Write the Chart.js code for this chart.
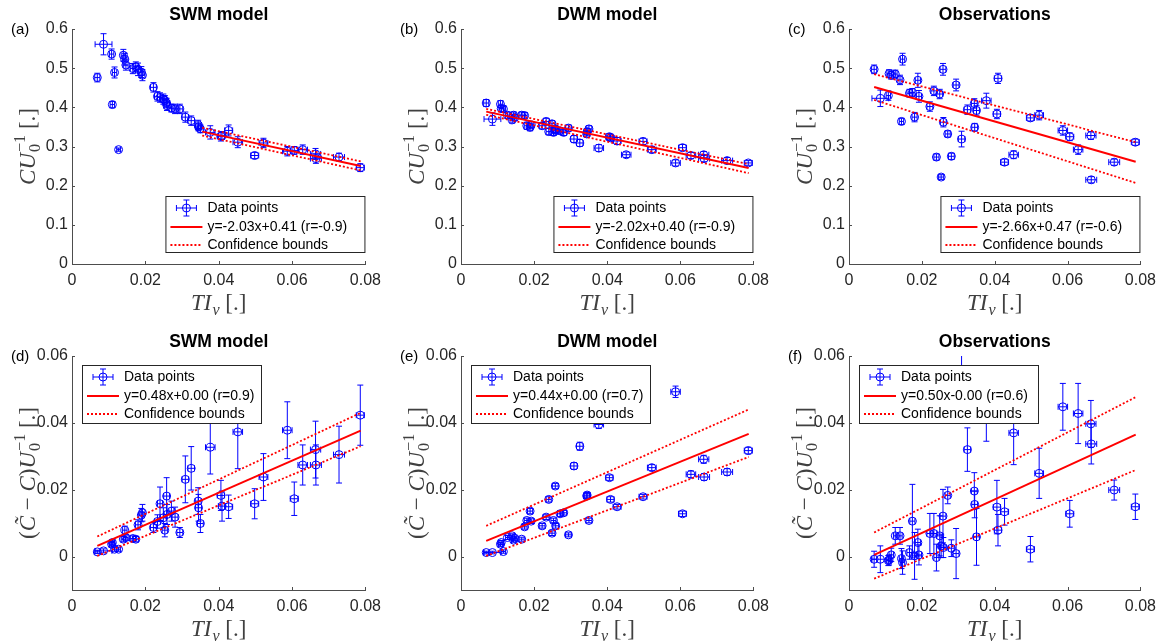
<!DOCTYPE html>
<html>
<head>
<meta charset="utf-8">
<script src="https://cdn.jsdelivr.net/npm/chart.js@4.4.0/dist/chart.umd.min.js"></script>
<style>
  body { margin: 0; background: #fff; width: 1163px; height: 641px; overflow: hidden; position: relative; }
  canvas { position: absolute; }
</style>
</head>
<body>
<canvas id="c0" width="388" height="320" style="left:0;top:0"></canvas>
<canvas id="c1" width="388" height="320" style="left:388px;top:0"></canvas>
<canvas id="c2" width="387" height="320" style="left:776px;top:0"></canvas>
<canvas id="c3" width="388" height="321" style="left:0;top:320px"></canvas>
<canvas id="c4" width="388" height="321" style="left:388px;top:320px"></canvas>
<canvas id="c5" width="387" height="321" style="left:776px;top:320px"></canvas>
<script>
// turbulence intensity of each case (shared by all panels) and its spread
const tiV = [0.0069, 0.0086, 0.0108, 0.0110, 0.0116, 0.0127, 0.0140, 0.0144, 0.0147, 0.0166,
             0.0174, 0.0180, 0.0189, 0.0192, 0.0222, 0.0233, 0.0240, 0.0249, 0.0253, 0.0258,
             0.0259, 0.0271, 0.0281, 0.0294, 0.0309, 0.0325, 0.0344, 0.0345, 0.0350, 0.0377,
             0.0406, 0.0409, 0.0427, 0.0452, 0.0498, 0.0522, 0.0587, 0.0606, 0.0629, 0.0664,
             0.0665, 0.0728, 0.0786];
const tiVErr = [0.0007, 0.0023, 0.0006, 0.0006, 0.0006, 0.0005, 0.0006, 0.0006, 0.0006, 0.0007,
                0.0007, 0.0007, 0.0007, 0.0007, 0.0008, 0.0008, 0.0007, 0.0008, 0.0007, 0.0008,
                0.0008, 0.0007, 0.0008, 0.0008, 0.0009, 0.0009, 0.0008, 0.0008, 0.0008, 0.0013,
                0.0010, 0.0010, 0.0011, 0.0013, 0.0011, 0.0012, 0.0013, 0.0011, 0.0013, 0.0014,
                0.0015, 0.0015, 0.0011];

// C U0^-1
const swmCu = [0.476, 0.561, 0.536, 0.407, 0.489, 0.292, 0.533, 0.523, 0.508, 0.499,
               0.504, 0.497, 0.490, 0.482, 0.451, 0.428, 0.425, 0.421, 0.418, 0.411,
               0.404, 0.398, 0.396, 0.396, 0.375, 0.366, 0.355, 0.350, 0.345, 0.336,
               0.326, 0.328, 0.341, 0.311, 0.277, 0.309, 0.288, 0.290, 0.292, 0.281,
               0.269, 0.273, 0.246];
const swmCuErr = [0.011, 0.027, 0.013, 0.008, 0.014, 0.004, 0.015, 0.015, 0.013, 0.013,
                  0.012, 0.016, 0.014, 0.014, 0.012, 0.012, 0.012, 0.013, 0.012, 0.012,
                  0.012, 0.010, 0.012, 0.012, 0.013, 0.012, 0.012, 0.010, 0.010, 0.017,
                  0.012, 0.010, 0.014, 0.014, 0.008, 0.012, 0.012, 0.010, 0.012, 0.014,
                  0.012, 0.010, 0.010];
const dwmCu = [0.411, 0.370, 0.408, 0.397, 0.396, 0.380, 0.368, 0.380, 0.374, 0.380,
               0.379, 0.353, 0.349, 0.355, 0.353, 0.364, 0.338, 0.358, 0.336, 0.345,
               0.341, 0.340, 0.336, 0.347, 0.319, 0.309, 0.332, 0.338, 0.345, 0.296,
               0.325, 0.322, 0.314, 0.279, 0.313, 0.292, 0.258, 0.297, 0.277, 0.279,
               0.269, 0.264, 0.258];
const dwmCuErr = [0.009, 0.016, 0.009, 0.008, 0.008, 0.008, 0.008, 0.008, 0.008, 0.008,
                  0.008, 0.009, 0.009, 0.008, 0.008, 0.008, 0.008, 0.008, 0.008, 0.008,
                  0.008, 0.008, 0.008, 0.008, 0.009, 0.009, 0.008, 0.008, 0.008, 0.009,
                  0.008, 0.008, 0.009, 0.007, 0.008, 0.008, 0.008, 0.008, 0.008, 0.008,
                  0.008, 0.008, 0.006];
const obsCu = [0.497, 0.423, 0.430, 0.486, 0.482, 0.485, 0.470, 0.364, 0.523, 0.436,
               0.438, 0.375, 0.469, 0.428, 0.402, 0.442, 0.273, 0.434, 0.222, 0.497,
               0.362, 0.332, 0.275, 0.457, 0.319, 0.394, 0.410, 0.349, 0.392, 0.417,
               0.383, 0.474, 0.260, 0.279, 0.373, 0.380, 0.341, 0.325, 0.292, 0.328,
               0.215, 0.260, 0.311];
const obsCuErr = [0.011, 0.021, 0.012, 0.010, 0.010, 0.010, 0.012, 0.008, 0.015, 0.010,
                  0.010, 0.012, 0.018, 0.015, 0.012, 0.012, 0.008, 0.012, 0.006, 0.015,
                  0.012, 0.008, 0.008, 0.015, 0.020, 0.012, 0.012, 0.010, 0.012, 0.019,
                  0.012, 0.013, 0.008, 0.010, 0.008, 0.012, 0.012, 0.010, 0.012, 0.010,
                  0.008, 0.008, 0.008];

// (C~ - C) U0^-1
const swmDc = [0.0014, 0.0017, 0.0037, 0.0042, 0.0022, 0.0022, 0.0052, 0.0079, 0.0057, 0.0054,
               0.0052, 0.0095, 0.0124, 0.0131, 0.0087, 0.0105, 0.0158, 0.0116, 0.0079, 0.0181,
               0.0126, 0.0136, 0.0118, 0.0072, 0.0231, 0.0264, 0.0166, 0.0146, 0.0099, 0.0327,
               0.0183, 0.0151, 0.0149, 0.0373, 0.0158, 0.0238, 0.0378, 0.0173, 0.0274, 0.0320,
               0.0274, 0.0305, 0.0423];
const swmDcErr = [0.0005, 0.0006, 0.0008, 0.0008, 0.0006, 0.0006, 0.0008, 0.0012, 0.0008, 0.0008,
                  0.0008, 0.0015, 0.0020, 0.0025, 0.0015, 0.0020, 0.0050, 0.0030, 0.0020, 0.0055,
                  0.0030, 0.0030, 0.0030, 0.0015, 0.0070, 0.0065, 0.0040, 0.0040, 0.0027, 0.0080,
                  0.0045, 0.0045, 0.0035, 0.0110, 0.0045, 0.0070, 0.0085, 0.0050, 0.0060, 0.0085,
                  0.0060, 0.0085, 0.0090];
const dwmDc = [0.0012, 0.0012, 0.0037, 0.0042, 0.0015, 0.0057, 0.0062, 0.0049, 0.0055, 0.0052,
               0.0089, 0.0108, 0.0136, 0.0106, 0.0092, 0.0118, 0.0171, 0.0070, 0.0108, 0.0211,
               0.0092, 0.0128, 0.0131, 0.0065, 0.0271, 0.0330, 0.0181, 0.0184, 0.0108, 0.0395,
               0.0236, 0.0171, 0.0149, 0.0440, 0.0179, 0.0266, 0.0493, 0.0128, 0.0246, 0.0291,
               0.0238, 0.0253, 0.0317];
const dwmDcErr = [0.0004, 0.0004, 0.0006, 0.0006, 0.0005, 0.0006, 0.0006, 0.0006, 0.0006, 0.0006,
                  0.0007, 0.0007, 0.0008, 0.0007, 0.0007, 0.0007, 0.0008, 0.0007, 0.0007, 0.0008,
                  0.0007, 0.0008, 0.0007, 0.0006, 0.0010, 0.0012, 0.0008, 0.0008, 0.0007, 0.0012,
                  0.0008, 0.0008, 0.0007, 0.0012, 0.0007, 0.0009, 0.0017, 0.0008, 0.0010, 0.0012,
                  0.0010, 0.0010, 0.0010];
const obsDc = [-0.0008, -0.0008, -0.0012, -0.0010, 0.0005, 0.0062, 0.0062, -0.0006, -0.0018, 0.0012,
               0.0106, 0.0002, 0.0042, 0.0005, 0.0069, 0.0069, -0.0003, 0.0062, 0.0032, 0.0121,
               0.0027, 0.0183, 0.0025, 0.0009, 0.0660, 0.0320, 0.0196, 0.0156, 0.0059, 0.0425,
               0.0148, 0.0079, 0.0134, 0.0370, 0.0022, 0.0249, 0.0448, 0.0128, 0.0428, 0.0397,
               0.0337, 0.0199, 0.0149];
const obsDcErr = [0.0024, 0.0040, 0.0015, 0.0015, 0.0020, 0.0025, 0.0025, 0.0030, 0.0035, 0.0020,
                  0.0110, 0.0070, 0.0040, 0.0030, 0.0060, 0.0060, 0.0040, 0.0060, 0.0035, 0.0080,
                  0.0030, 0.0025, 0.0025, 0.0075, 0.0100, 0.0065, 0.0055, 0.0040, 0.0085, 0.0080,
                  0.0080, 0.0047, 0.0040, 0.0095, 0.0038, 0.0075, 0.0070, 0.0040, 0.0090, 0.0070,
                  0.0060, 0.0030, 0.0038];

// linear fits: end points of fit line and confidence bounds
const swmCuFitX = [0.0355, 0.0787], swmCuFit = [0.338, 0.250], swmCuUp = [0.348, 0.262], swmCuLo = [0.328, 0.239];
const dwmCuFitX = [0.0069, 0.0787], dwmCuFit = [0.389, 0.245], dwmCuUp = [0.396, 0.255], dwmCuLo = [0.381, 0.232];
const obsCuFitX = [0.0069, 0.0787], obsCuFit = [0.452, 0.261], obsCuUp = [0.485, 0.311], obsCuLo = [0.419, 0.207];
const swmDcFitX = [0.0069, 0.0787], swmDcFit = [0.0032, 0.0377], swmDcUp = [0.0060, 0.0430], swmDcLo = [0.0002, 0.0330];
const dwmDcFitX = [0.0069, 0.0787], dwmDcFit = [0.0047, 0.0367], dwmDcUp = [0.0092, 0.0440], dwmDcLo = [0.0002, 0.0298];
const obsDcFitX = [0.0069, 0.0787], obsDcFit = [0.0005, 0.0365], obsDcUp = [0.0072, 0.0477], obsDcLo = [-0.0066, 0.0259];

const titles = ['SWM model', 'DWM model', 'Observations'];
const letters = ['(a)', '(b)', '(c)', '(d)', '(e)', '(f)'];
const fitLabels = ['y=-2.03x+0.41 (r=-0.9)', 'y=-2.02x+0.40 (r=-0.9)', 'y=-2.66x+0.47 (r=-0.6)',
                   'y=0.48x+0.00 (r=0.9)', 'y=0.44x+0.00 (r=0.7)', 'y=0.50x-0.00 (r=0.6)'];
const xTicks = [0, 0.02, 0.04, 0.06, 0.08];
const cuTicks = [0, 0.1, 0.2, 0.3, 0.4, 0.5, 0.6];
const dcTicks = [0, 0.02, 0.04, 0.06];

const cuLabel = [{ t: 'CU', f: 'i' }, { sub: '0', sup: '\u22121' }, { t: ' [.]', f: 'n' }];
const dcLabel = [{ t: '(', f: 'n' }, { t: 'C\u0303', f: 'i' }, { t: ' \u2212 ', f: 'n' }, { t: 'C', f: 'i' },
                 { t: ')', f: 'n' }, { t: 'U', f: 'i' }, { sub: '0', sup: '\u22121' }, { t: ' [.]', f: 'n' }];
const tiLabel = [{ t: 'TI', f: 'i' }, { sub: 'v', f: 'i' }, { t: ' [.]', f: 'n' }];

const SANS = "'Liberation Sans', Arial, sans-serif";
const INK = '#262626';
const BLUE = '#0000ff';
const RED = '#ff0000';

function fmt(v) { return v === 0 ? '0' : String(Math.round(v * 100) / 100); }

function serif(style, size) {
    return (style === 'i' ? 'italic ' : '') + size + "px 'Liberation Serif', 'Times New Roman', serif";
}

// draws a small math-like label with sub/superscripts, centred at (cx, cy)
function drawMath(ctx, segs, cx, cy, size, angle) {
    const small = size * 0.7;
    const parts = segs.map(s => {
        if (s.t !== undefined) {
            ctx.font = serif(s.f, size);
            return { s, w: ctx.measureText(s.t).width };
        }
        ctx.font = serif(s.f, small);
        const w = Math.max(s.sup ? ctx.measureText(s.sup).width : 0, s.sub ? ctx.measureText(s.sub).width : 0);
        return { s, w: w + 1 };
    });
    const total = parts.reduce((a, p) => a + p.w, 0);
    ctx.save();
    ctx.translate(cx, cy);
    ctx.rotate(angle);
    ctx.fillStyle = '#404040';
    ctx.textBaseline = 'alphabetic';
    ctx.textAlign = 'left';
    let x = -total / 2;
    const base = size * 0.3;
    parts.forEach(p => {
        const s = p.s;
        if (s.t !== undefined) {
            ctx.font = serif(s.f, size);
            ctx.fillText(s.t, x, base);
        } else {
            ctx.font = serif(s.f, small);
            if (s.sup) ctx.fillText(s.sup, x + 1, base - size * 0.42);
            if (s.sub) ctx.fillText(s.sub, x + 1, base + size * 0.24);
        }
        x += p.w;
    });
    ctx.restore();
}

function errIcon(ctx, cx, cy) {
    ctx.beginPath();
    ctx.moveTo(cx - 10, cy); ctx.lineTo(cx + 10, cy);
    ctx.moveTo(cx - 10, cy - 3); ctx.lineTo(cx - 10, cy + 3);
    ctx.moveTo(cx + 10, cy - 3); ctx.lineTo(cx + 10, cy + 3);
    ctx.moveTo(cx, cy - 8); ctx.lineTo(cx, cy + 8);
    ctx.moveTo(cx - 3, cy - 8); ctx.lineTo(cx + 3, cy - 8);
    ctx.moveTo(cx - 3, cy + 8); ctx.lineTo(cx + 3, cy + 8);
    ctx.stroke();
    ctx.beginPath();
    ctx.arc(cx, cy, 4, 0, Math.PI * 2);
    ctx.stroke();
}

const panelPlugin = {
    id: 'panel',
    beforeDatasetsDraw(chart, args, o) {
        const { ctx, chartArea: a, scales: { x: xs, y: ys } } = chart;
        ctx.save();
        ctx.beginPath();
        ctx.rect(a.left, a.top, a.right - a.left, a.bottom - a.top);
        ctx.clip();
        ctx.strokeStyle = BLUE;
        ctx.lineWidth = 1;
        ctx.beginPath();
        tiV.forEach((xv, i) => {
            const px = xs.getPixelForValue(xv), py = ys.getPixelForValue(o.ys[i]);
            const y1 = ys.getPixelForValue(o.ys[i] - o.es[i]), y2 = ys.getPixelForValue(o.ys[i] + o.es[i]);
            const x1 = xs.getPixelForValue(xv - tiVErr[i]), x2 = xs.getPixelForValue(xv + tiVErr[i]);
            ctx.moveTo(px, y1); ctx.lineTo(px, y2);
            ctx.moveTo(px - 3, y1); ctx.lineTo(px + 3, y1);
            ctx.moveTo(px - 3, y2); ctx.lineTo(px + 3, y2);
            ctx.moveTo(x1, py); ctx.lineTo(x2, py);
            ctx.moveTo(x1, py - 3); ctx.lineTo(x1, py + 3);
            ctx.moveTo(x2, py - 3); ctx.lineTo(x2, py + 3);
        });
        ctx.stroke();
        ctx.restore();
    },
    afterDraw(chart, args, o) {
        const { ctx, chartArea: a, scales: { x: xs, y: ys } } = chart;
        ctx.save();
        // inward tick marks
        ctx.strokeStyle = '#4d4d4d';
        ctx.lineWidth = 1;
        ctx.beginPath();
        xTicks.forEach(v => { const p = Math.round(xs.getPixelForValue(v)) + 0.5; ctx.moveTo(p, a.bottom); ctx.lineTo(p, a.bottom - 3); });
        o.yTicks.forEach(v => { const p = Math.round(ys.getPixelForValue(v)) + 0.5; ctx.moveTo(a.left, p); ctx.lineTo(a.left + 3, p); });
        ctx.stroke();

        // title and panel letter
        ctx.fillStyle = '#000';
        ctx.textBaseline = 'middle';
        ctx.textAlign = 'center';
        ctx.font = 'bold 17.5px ' + SANS;
        ctx.fillText(o.title, (a.left + a.right) / 2, a.top - 14);
        ctx.textAlign = 'left';
        ctx.font = '15px ' + SANS;
        ctx.fillText(o.letter, a.left - 61, a.top + 1);

        // axis titles
        drawMath(ctx, tiLabel, (a.left + a.right) / 2, a.bottom + 39, 23, 0);
        drawMath(ctx, o.yLabel, a.left - 44, (a.top + a.bottom) / 2, 23, -Math.PI / 2);

        // legend
        const w = o.legendW, h = o.legendH;
        const lx = o.legendRight ? a.right - w : a.left + 10;
        const ly = o.legendRight ? a.bottom - 11 - h : a.top + 9;
        ctx.fillStyle = '#fff';
        ctx.fillRect(lx, ly, w, h);
        ctx.strokeStyle = '#262626';
        ctx.strokeRect(lx + 0.5, ly + 0.5, w - 1, h - 1);
        const rows = [ly + 12, ly + 31, ly + 49];
        ctx.strokeStyle = BLUE;
        ctx.lineWidth = 1;
        errIcon(ctx, lx + 21, rows[0]);
        ctx.strokeStyle = RED;
        ctx.lineWidth = 2;
        ctx.beginPath(); ctx.moveTo(lx + 5, rows[1]); ctx.lineTo(lx + 37, rows[1]); ctx.stroke();
        ctx.setLineDash([2, 2]);
        ctx.beginPath(); ctx.moveTo(lx + 5, rows[2]); ctx.lineTo(lx + 37, rows[2]); ctx.stroke();
        ctx.setLineDash([]);
        ctx.fillStyle = '#000';
        ctx.font = '14px ' + SANS;
        ctx.textBaseline = 'middle';
        ctx.fillText('Data points', lx + 42, rows[0]);
        ctx.fillText(o.fitLabel, lx + 42, rows[1]);
        ctx.fillText('Confidence bounds', lx + 42, rows[2]);
        ctx.restore();
    }
};

const colLeft = [0, 388, 776], colW = [388, 388, 387];
const axLeft = [72, 461, 849], axRight = [368, 756, 1144];
const rowTop = [0, 320], rowH = [320, 321];
const axTop = [29, 356], axBottom = [264, 590];

const panels = [
    { ys: swmCu, es: swmCuErr, fx: swmCuFitX, fit: swmCuFit, up: swmCuUp, lo: swmCuLo },
    { ys: dwmCu, es: dwmCuErr, fx: dwmCuFitX, fit: dwmCuFit, up: dwmCuUp, lo: dwmCuLo },
    { ys: obsCu, es: obsCuErr, fx: obsCuFitX, fit: obsCuFit, up: obsCuUp, lo: obsCuLo },
    { ys: swmDc, es: swmDcErr, fx: swmDcFitX, fit: swmDcFit, up: swmDcUp, lo: swmDcLo },
    { ys: dwmDc, es: dwmDcErr, fx: dwmDcFitX, fit: dwmDcFit, up: dwmDcUp, lo: dwmDcLo },
    { ys: obsDc, es: obsDcErr, fx: obsDcFitX, fit: obsDcFit, up: obsDcUp, lo: obsDcLo }
];

panels.forEach((p, k) => {
    const row = k < 3 ? 0 : 1, col = k % 3;
    const yTicks = row === 0 ? cuTicks : dcTicks;
    const yAxisW = axLeft[col] - colLeft[col];
    const xAxisH = rowTop[row] + rowH[row] - axBottom[row];
    const line = (xsArr, ysArr) => xsArr.map((x, i) => ({ x, y: ysArr[i] }));

    new Chart(document.getElementById('c' + k), {
        type: 'scatter',
        data: {
            datasets: [
                { label: 'Data points', data: tiV.map((x, i) => ({ x, y: p.ys[i] })), pointStyle: 'circle',
                  pointRadius: 4, pointHoverRadius: 4, borderColor: BLUE, backgroundColor: 'rgba(0,0,0,0)',
                  borderWidth: 1, order: 3 },
                { label: fitLabels[k], type: 'line', data: line(p.fx, p.fit), borderColor: RED, borderWidth: 2,
                  pointRadius: 0, order: 1 },
                { label: 'Confidence bounds', type: 'line', data: line(p.fx, p.up), borderColor: RED, borderWidth: 1.8,
                  borderDash: [2, 2], pointRadius: 0, order: 2 },
                { label: 'Confidence bounds (lower)', type: 'line', data: line(p.fx, p.lo), borderColor: RED, borderWidth: 1.8,
                  borderDash: [2, 2], pointRadius: 0, order: 2 }
            ]
        },
        options: {
            responsive: false,
            animation: false,
            devicePixelRatio: 1,
            events: [],
            layout: { padding: { left: 0, right: colLeft[col] + colW[col] - axRight[col], top: axTop[row] - rowTop[row], bottom: 0 } },
            plugins: {
                legend: { display: false },
                tooltip: { enabled: false },
                panel: { ys: p.ys, es: p.es, yTicks, title: titles[col], letter: letters[k], fitLabel: fitLabels[k],
                         yLabel: row === 0 ? cuLabel : dcLabel, legendRight: row === 0,
                         legendW: row === 0 ? 200 : 180, legendH: row === 0 ? 57 : 59 }
            },
            scales: {
                x: {
                    type: 'linear', min: 0, max: 0.08,
                    afterBuildTicks: s => { s.ticks = xTicks.map(v => ({ value: v })); },
                    afterFit: s => { s.height = xAxisH; },
                    grid: { display: true, drawOnChartArea: false, drawTicks: false },
                    border: { display: true, color: '#4d4d4d', width: 1 },
                    ticks: { padding: 7, color: INK, autoSkip: false, maxRotation: 0, font: { family: SANS, size: 16 }, callback: fmt }
                },
                y: {
                    type: 'linear', min: row === 0 ? 0 : -0.01, max: row === 0 ? 0.6 : 0.06,
                    afterBuildTicks: s => { s.ticks = yTicks.map(v => ({ value: v })); },
                    afterFit: s => { s.width = yAxisW; },
                    grid: { display: true, drawOnChartArea: false, drawTicks: false },
                    border: { display: true, color: '#4d4d4d', width: 1 },
                    ticks: { padding: 4, color: INK, autoSkip: false, font: { family: SANS, size: 16 }, callback: fmt }
                }
            }
        },
        plugins: [panelPlugin]
    });
});
</script>
</body>
</html>
